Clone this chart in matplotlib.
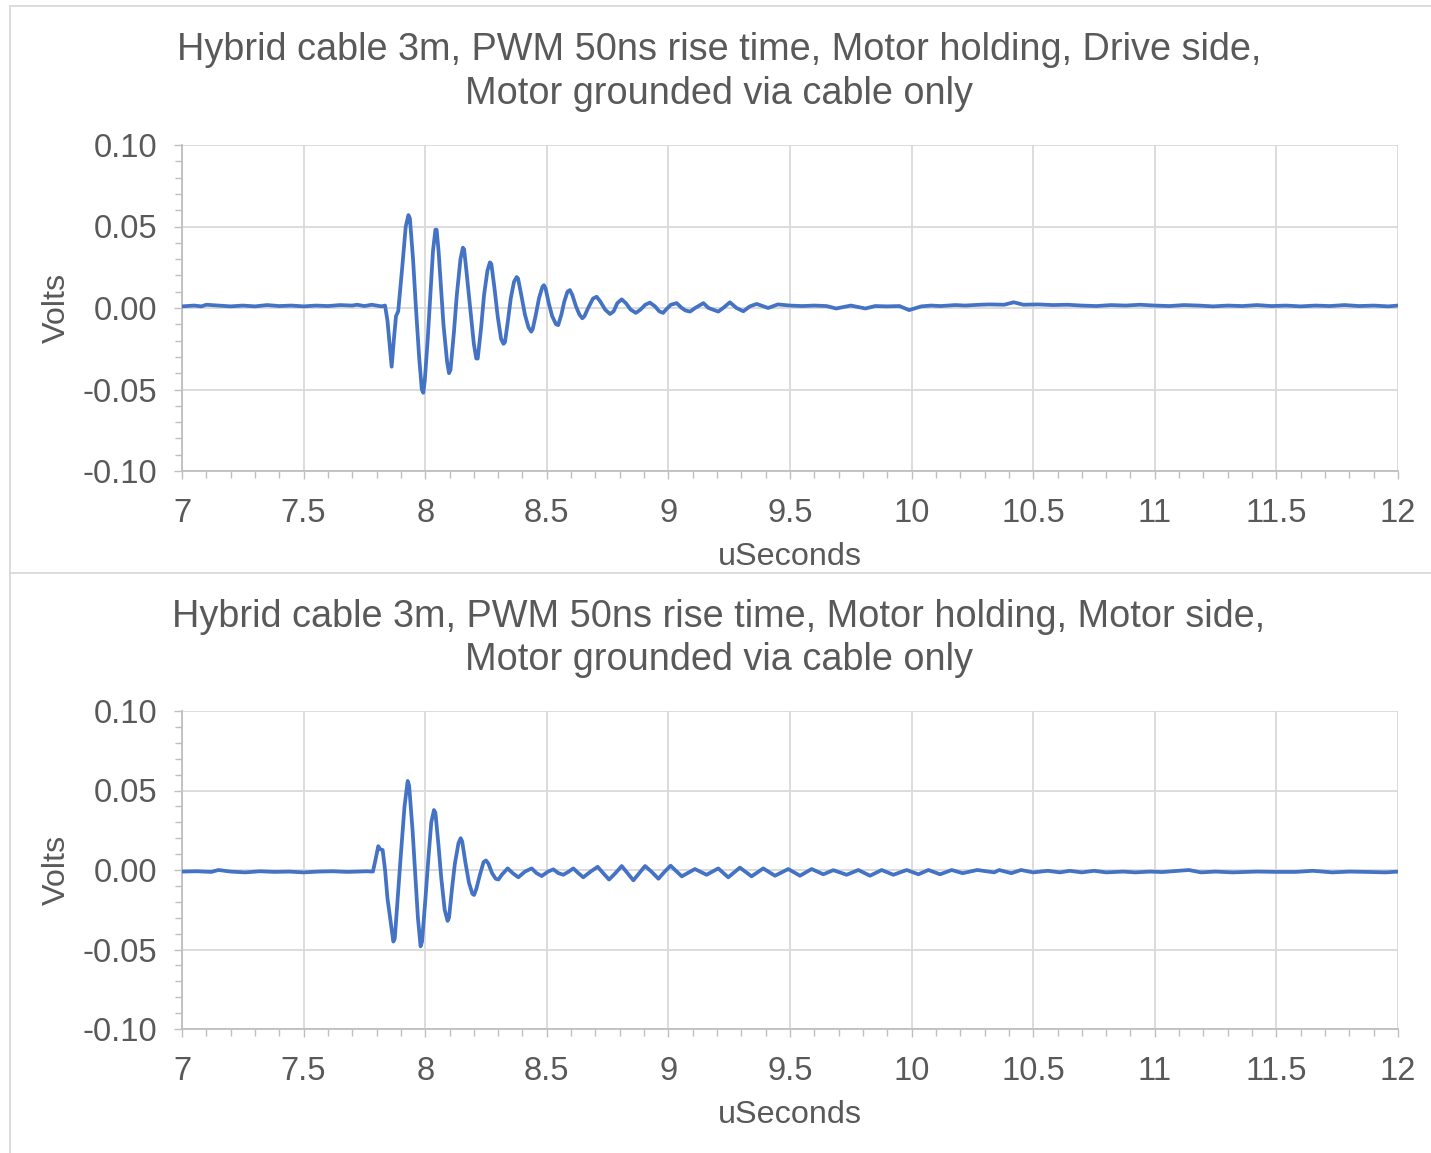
import matplotlib
matplotlib.use('Agg')
import matplotlib.pyplot as plt
from matplotlib.ticker import MultipleLocator, FuncFormatter
from matplotlib.lines import Line2D

plt.rcParams['font.family'] = ['Liberation Sans', 'DejaVu Sans']

# drive side trace (time in us, volts)
drive_t = [7.00, 7.05, 7.08, 7.10, 7.15, 7.20, 7.25, 7.30, 7.35, 7.40, 7.45, 7.50, 7.55, 7.60,
           7.65, 7.70, 7.72, 7.75, 7.78, 7.80, 7.82, 7.835,
           7.845, 7.862, 7.872, 7.880, 7.889, 7.905, 7.920, 7.931, 7.937, 7.950, 7.962, 7.975,
           7.986, 7.992, 7.998, 8.010, 8.020, 8.032, 8.042, 8.047, 8.055, 8.065, 8.075, 8.090,
           8.098, 8.104, 8.118, 8.130, 8.145, 8.155, 8.160, 8.170, 8.185, 8.200, 8.210, 8.216,
           8.230, 8.242, 8.256, 8.266, 8.272, 8.285, 8.298, 8.312, 8.322, 8.328, 8.340, 8.352,
           8.365, 8.376, 8.382, 8.395, 8.410, 8.425, 8.436, 8.442, 8.455, 8.468, 8.482, 8.488,
           8.495, 8.508, 8.522, 8.538, 8.547, 8.560, 8.572, 8.585, 8.595, 8.605, 8.620, 8.634,
           8.646, 8.655, 8.670, 8.690, 8.705, 8.720, 8.740, 8.760, 8.775, 8.790, 8.808, 8.825,
           8.845, 8.866, 8.885, 8.905, 8.924, 8.945, 8.962, 8.978, 8.990, 9.010, 9.034, 9.055,
           9.070, 9.089, 9.110, 9.144, 9.165, 9.205, 9.225, 9.253, 9.280, 9.308, 9.335, 9.363,
           9.410, 9.450, 9.500, 9.550, 9.600, 9.650, 9.690, 9.750, 9.810, 9.850, 9.900, 9.950,
           9.990, 10.04, 10.08, 10.12, 10.18, 10.22, 10.28, 10.32, 10.38, 10.42, 10.46, 10.52,
           10.58, 10.64, 10.70, 10.76, 10.82, 10.88, 10.94, 11.00, 11.06, 11.12, 11.18, 11.24,
           11.30, 11.36, 11.42, 11.48, 11.54, 11.60, 11.66, 11.72, 11.78, 11.84, 11.90, 11.96,
           12.00]
drive_v = [0.0010, 0.0015, 0.0010, 0.0020, 0.0015, 0.0010, 0.0015, 0.0010, 0.0018, 0.0012,
           0.0015, 0.0010, 0.0015, 0.0012, 0.0018, 0.0015, 0.0020, 0.0012, 0.0020, 0.0015,
           0.0010, 0.0015,
           -0.008, -0.036, -0.018, -0.005, -0.002, 0.024, 0.050, 0.057, 0.055, 0.030, 0.000,
           -0.030, -0.050, -0.052, -0.045, -0.020, 0.005, 0.035, 0.048, 0.048, 0.035, 0.012,
           -0.010, -0.033, -0.040, -0.038, -0.015, 0.008, 0.030, 0.037, 0.036, 0.022, 0.000,
           -0.022, -0.031, -0.031, -0.012, 0.008, 0.023, 0.028, 0.027, 0.012, -0.005, -0.019,
           -0.022, -0.021, -0.008, 0.006, 0.016, 0.019, 0.018, 0.008, -0.004, -0.012, -0.0145,
           -0.013, -0.004, 0.006, 0.013, 0.014, 0.012, 0.003, -0.005, -0.010, -0.0105, -0.004,
           0.004, 0.010, 0.011, 0.008, 0.001, -0.004, -0.0063, -0.005, 0.000, 0.0058, 0.0069,
           0.004, -0.001, -0.0037, -0.002, 0.003, 0.0053, 0.003, -0.001, -0.003, -0.001, 0.002,
           0.0033, 0.001, -0.002, -0.003, -0.001, 0.002, 0.003, 0.000, -0.0015, -0.0022, 0.000,
           0.003, 0.000, -0.0022, 0.000, 0.0035, 0.000, -0.002, 0.001, 0.0025,
           0.0000, 0.0022, 0.0015, 0.0012, 0.0015, 0.0012, -0.0003, 0.0015, -0.0003, 0.0012,
           0.0010, 0.0012, -0.0013, 0.0010, 0.0015, 0.0012, 0.0018, 0.0015, 0.0020, 0.0022,
           0.0020, 0.0035, 0.0020, 0.0022, 0.0018, 0.0020, 0.0015, 0.0012, 0.0018, 0.0015,
           0.0020, 0.0015, 0.0012, 0.0018, 0.0015, 0.0010, 0.0015, 0.0012, 0.0018, 0.0012,
           0.0015, 0.0010, 0.0015, 0.0012, 0.0018, 0.0012, 0.0015, 0.0010, 0.0015]

# motor side trace
motor_t = [7.00, 7.06, 7.12, 7.15, 7.20, 7.26, 7.32, 7.38, 7.44, 7.50, 7.56, 7.62, 7.68, 7.72,
           7.76, 7.785,
           7.795, 7.807, 7.815, 7.825, 7.835, 7.845, 7.853, 7.860, 7.869, 7.875, 7.888, 7.900,
           7.915, 7.928, 7.934, 7.948, 7.958, 7.970, 7.981, 7.987, 8.000, 8.012, 8.025, 8.036,
           8.042, 8.055, 8.066, 8.080, 8.092, 8.098, 8.110, 8.122, 8.137, 8.146, 8.152, 8.165,
           8.180, 8.194, 8.201, 8.210, 8.225, 8.240, 8.250, 8.260, 8.275, 8.290, 8.301, 8.315,
           8.339, 8.360, 8.383, 8.410, 8.438, 8.458, 8.479, 8.505, 8.527, 8.548, 8.568, 8.590,
           8.609, 8.630, 8.650, 8.680, 8.709, 8.732, 8.756, 8.782, 8.808, 8.832, 8.856, 8.880,
           8.904, 8.930, 8.959, 8.985, 9.009, 9.055, 9.109, 9.157, 9.205, 9.246, 9.294, 9.342,
           9.390, 9.438, 9.493, 9.541, 9.589, 9.637, 9.678, 9.733, 9.781, 9.829, 9.877, 9.925,
           9.980, 10.028, 10.069, 10.117, 10.165, 10.21, 10.27, 10.34, 10.36, 10.41, 10.45,
           10.50, 10.56, 10.61, 10.65, 10.70, 10.75, 10.80, 10.87, 10.92, 10.98, 11.03, 11.14,
           11.19, 11.25, 11.32, 11.42, 11.50, 11.58, 11.65, 11.73, 11.80, 11.87, 11.95, 12.00]
motor_v = [-0.0010, -0.0008, -0.0012, 0.0000, -0.0010, -0.0015, -0.0008, -0.0012, -0.0010,
           -0.0015, -0.0010, -0.0008, -0.0012, -0.0010, -0.0008, -0.0010,
           0.006, 0.015, 0.013, 0.0126, 0.000, -0.018, -0.027, -0.035, -0.045, -0.043, -0.015,
           0.010, 0.040, 0.056, 0.053, 0.025, 0.000, -0.030, -0.048, -0.045, -0.020, 0.005,
           0.030, 0.0377, 0.036, 0.015, -0.005, -0.025, -0.032, -0.030, -0.012, 0.004, 0.017,
           0.020, 0.018, 0.005, -0.008, -0.015, -0.0157, -0.012, -0.003, 0.005, 0.006, 0.004,
           -0.002, -0.0055, -0.006, -0.003, 0.001, -0.002, -0.0046, -0.001, 0.001, -0.002,
           -0.0038, -0.001, 0.0004, -0.002, -0.003, -0.001, 0.001, -0.002, -0.0046, -0.001,
           0.002, -0.002, -0.006, -0.002, 0.0025, -0.002, -0.0065, -0.002, 0.0025, -0.001,
           -0.0055, -0.001, 0.0027, -0.004, 0.0006, -0.003, 0.001, -0.0046, 0.0015, -0.004,
           0.001, -0.0036, 0.0006, -0.0036, 0.0006, -0.0027, -0.0001, -0.003, 0.000, -0.0036,
           0.000, -0.003, 0.000, -0.0027, 0.000, -0.0027, 0.000, -0.002, 0.000, -0.0015, 0.000,
           -0.002, 0.000, -0.0015, -0.0005, -0.0015, -0.0005, -0.0015, -0.0005, -0.0015,
           -0.001, -0.0015, -0.001, -0.0013, 0.000, -0.0015, -0.001, -0.0015, -0.001, -0.0012,
           -0.0012, -0.0005, -0.0015, -0.001, -0.0012, -0.0015, -0.001]

titles = [['Hybrid cable 3m, PWM 50ns rise time, Motor holding, Drive side,',
           'Motor grounded via cable only'],
          ['Hybrid cable 3m, PWM 50ns rise time, Motor holding, Motor side,',
           'Motor grounded via cable only']]

line_color = '#4472C4'
text_color = '#595959'
grid_color = '#D9D9D9'
axis_color = '#BFBFBF'

W, H = 1431, 1153
fig = plt.figure(figsize=(W / 100, H / 100), dpi=100)


def fx(px):
    return px / W


def fy(py):
    return 1 - py / H


# chart area borders
fig.add_artist(Line2D([fx(9.5), fx(9.5)], [0, fy(6)], color=grid_color, lw=1.3))
fig.add_artist(Line2D([fx(9.5), 1], [fy(6), fy(6)], color=grid_color, lw=1.3))
fig.add_artist(Line2D([fx(9.5), 1], [fy(572.5), fy(572.5)], color=grid_color, lw=1.3))

panels = [
    # (plot top px, plot bottom px, title line y px, xlabel y px)
    (145, 471, (50, 94), 557),
    (711, 1029, (617, 660), 1115),
]
series = [(drive_t, drive_v), (motor_t, motor_v)]

for i, (top, bot, ty, xly) in enumerate(panels):
    ax = fig.add_axes([fx(182), fy(bot), fx(1398) - fx(182), (bot - top) / H])
    t, v = series[i]
    ax.plot(t, v, color=line_color, lw=2.7, solid_joinstyle='round', zorder=3)

    ax.set_xlim(7, 12)
    ax.set_ylim(-0.10, 0.10)
    ax.xaxis.set_major_locator(MultipleLocator(0.5))
    ax.xaxis.set_minor_locator(MultipleLocator(0.1))
    ax.yaxis.set_major_locator(MultipleLocator(0.05))
    ax.yaxis.set_minor_locator(MultipleLocator(0.01))
    ax.xaxis.set_major_formatter(FuncFormatter(lambda x, p: '%g' % x))
    ax.yaxis.set_major_formatter(FuncFormatter(lambda y, p: '%.2f' % y))

    ax.grid(True, which='major', color=grid_color, lw=1.3)
    ax.set_axisbelow(True)
    for s in ['top', 'right']:
        ax.spines[s].set_visible(False)
    for s in ['left', 'bottom']:
        ax.spines[s].set_color(axis_color)
        ax.spines[s].set_linewidth(1.3)

    ax.tick_params(which='both', direction='out', color=axis_color, width=1.0,
                   labelsize=23.5, labelcolor=text_color)
    ax.tick_params(which='major', length=6, pad=12)
    ax.tick_params(axis='x', which='major', pad=13.5)
    ax.tick_params(which='minor', length=5)

    for j, line in enumerate(titles[i]):
        fig.text(fx(719), fy(ty[j]), line, ha='center', va='center',
                 fontsize=27.3, color=text_color)
    fig.text(fx(790), fy(xly), 'uSeconds', ha='center', va='center',
             fontsize=23.3, color=text_color)
    fig.text(fx(57), fy((top + bot) / 2), 'Volts', ha='center', va='center',
             rotation=90, fontsize=23.3, color=text_color)

fig.savefig('out.png', dpi=100)
